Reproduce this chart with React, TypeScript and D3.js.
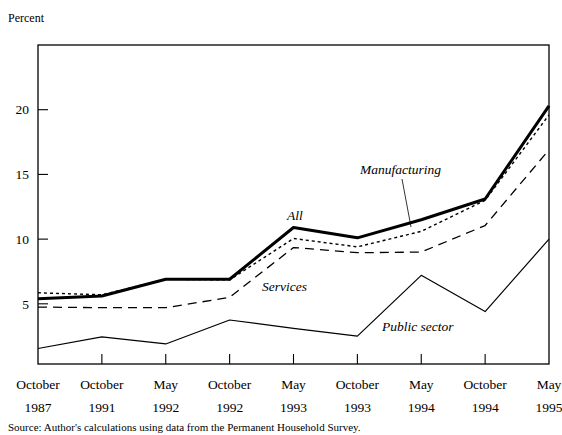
import React from 'react';
import * as d3 from 'd3';

const months = ['October', 'October', 'May', 'October', 'May', 'October', 'May', 'October', 'May'];
const years = ['1987', '1991', '1992', '1992', '1993', '1993', '1994', '1994', '1995'];
const allWorkers = [5.4, 5.6, 6.9, 6.9, 10.9, 10.1, 11.5, 13.1, 20.3];
const manufacturing = [5.85, 5.7, 6.9, 6.85, 10.05, 9.4, 10.6, 13.0, 19.6];
const services = [4.75, 4.7, 4.7, 5.5, 9.35, 8.95, 9.0, 11.05, 16.9];
const publicSector = [1.55, 2.45, 1.9, 3.75, 3.1, 2.5, 7.2, 4.4, 10.0];
const yTicks = [5, 10, 15, 20];

const W = 562;
const H = 435;
const left = 38;
const right = 549;
const top = 45;
const bottom = 364;
const FONT = "'Liberation Serif', 'DejaVu Serif', serif";

const App: React.FC = () => {
  const x = d3.scalePoint<number>().domain(d3.range(months.length)).range([left, right]);
  const y = d3.scaleLinear().domain([0.35, 25]).range([bottom, top]);

  const line = d3.line<number>()
    .x((_, i) => x(i) as number)
    .y(d => y(d));

  const series = [
    { data: publicSector, width: 1.2, dash: undefined },
    { data: services, width: 1.3, dash: '9,6' },
    { data: manufacturing, width: 1.4, dash: '3,3' },
    { data: allWorkers, width: 3, dash: undefined },
  ];

  return (
    <svg width={W} height={H} style={{ position: 'absolute', left: 0, top: 0, background: '#fff', fontFamily: FONT }}>
      <text x={8} y={22} fontSize={12}>Percent</text>

      {/* frame */}
      <rect x={left} y={top} width={right - left} height={bottom - top} fill="none" stroke="#000" strokeWidth={1.3} />

      {/* y ticks */}
      {yTicks.map(t => (
        <g key={t}>
          <line x1={left} x2={left + 10} y1={y(t)} y2={y(t)} stroke="#000" strokeWidth={1.1} />
          <text x={29} y={y(t)} dy="0.35em" textAnchor="end" fontSize={13.5}>{t}</text>
        </g>
      ))}

      {/* x ticks and labels */}
      {months.map((m, i) => (
        <g key={i}>
          {i > 0 && i < months.length - 1 && (
            <line x1={x(i)} x2={x(i)} y1={bottom} y2={bottom - 10} stroke="#000" strokeWidth={1.1} />
          )}
          <text x={x(i)} y={389} textAnchor="middle" fontSize={13.5}>{m}</text>
          <text x={x(i)} y={412} textAnchor="middle" fontSize={13.5}>{years[i]}</text>
        </g>
      ))}

      {/* lines */}
      {series.map((s, k) => (
        <path key={k} d={line(s.data) || ''} fill="none" stroke="#000"
          strokeWidth={s.width} strokeDasharray={s.dash} strokeLinejoin="round" />
      ))}

      {/* annotations */}
      <g fontStyle="italic" fontSize={13.5}>
        <text x={360} y={174}>Manufacturing</text>
        <line x1={402} y1={179} x2={411} y2={227} stroke="#000" strokeWidth={0.8} />
        <text x={287} y={220}>All</text>
        <text x={262} y={291}>Services</text>
        <text x={382} y={331}>Public sector</text>
      </g>

      <text x={8} y={431} fontSize={11}>Source:  Author's calculations using data from the Permanent Household Survey.</text>
    </svg>
  );
};

export default App;
